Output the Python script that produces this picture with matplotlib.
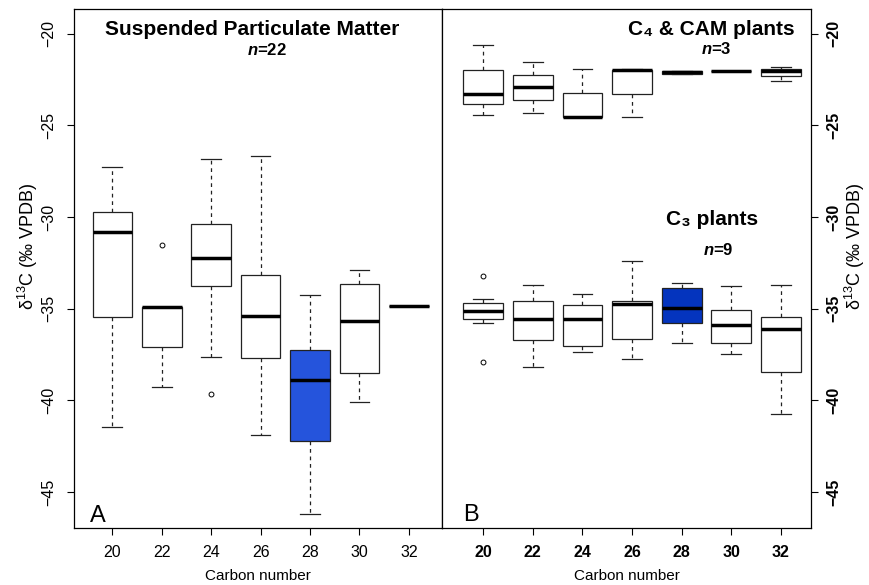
import matplotlib
matplotlib.use('Agg')
import matplotlib.pyplot as plt

plt.rcParams['font.family'] = ['Liberation Sans', 'DejaVu Sans']
plt.rcParams['mathtext.fontset'] = 'custom'
plt.rcParams['mathtext.rm'] = 'Liberation Sans'
plt.rcParams['mathtext.bf'] = 'Liberation Sans:bold'
plt.rcParams['mathtext.it'] = 'Liberation Sans:italic'
plt.rcParams['mathtext.bfit'] = 'Liberation Sans:italic:bold'

carbon = ['20', '22', '24', '26', '28', '30', '32']

# panel A: suspended particulate matter
spm_med = [-30.83, -34.90, -32.23, -35.38, -38.90, -35.68, -34.87]
spm_q1 = [-35.47, -37.10, -33.74, -37.68, -42.19, -38.50, -34.87]
spm_q3 = [-29.74, -34.89, -30.40, -33.18, -37.25, -33.65, -34.87]
spm_lo = [-41.44, -39.25, -37.63, -41.90, -46.20, -40.08, -34.87]
spm_hi = [-27.26, -34.89, -26.82, -26.66, -34.27, -32.87, -34.87]
spm_out = [[], [-31.5], [-39.63], [], [], [], []]

# panel B: C4 & CAM plants
c4_med = [-23.31, -22.92, -24.53, -22.00, -22.12, -22.03, -22.04]
c4_q1 = [-23.86, -23.61, -24.57, -23.28, -22.20, -22.03, -22.30]
c4_q3 = [-21.97, -22.25, -23.23, -21.99, -22.05, -22.03, -21.93]
c4_lo = [-24.42, -24.32, -24.57, -24.53, -22.20, -22.03, -22.59]
c4_hi = [-20.61, -21.54, -21.93, -21.95, -22.05, -22.03, -21.84]
c4_out = [[], [], [], [], [], [], []]

# panel B: C3 plants
c3_med = [-35.12, -35.58, -35.58, -34.76, -34.98, -35.87, -36.09]
c3_q1 = [-35.57, -36.72, -37.03, -36.67, -35.78, -36.85, -38.45]
c3_q3 = [-34.67, -34.60, -34.78, -34.58, -33.89, -35.09, -35.45]
c3_lo = [-35.78, -38.17, -37.36, -37.76, -36.87, -37.47, -40.75]
c3_hi = [-34.49, -33.71, -34.18, -32.38, -33.60, -33.78, -33.71]
c3_out = [[-33.2, -37.9], [], [], [], [], [], []]

yticks = [-45, -40, -35, -30, -25, -20]


def stats(med, q1, q3, lo, hi, out):
  return [dict(med=med[i], q1=q1[i], q3=q3[i], whislo=lo[i], whishi=hi[i],
               fliers=out[i]) for i in range(len(med))]


def draw(ax, st, hl_color):
  pos = list(range(1, len(st) + 1))
  res = ax.bxp(st, positions=pos, widths=0.8, capwidths=0.4, patch_artist=True,
               boxprops=dict(facecolor='white', edgecolor='#222222', linewidth=0.9),
               medianprops=dict(color='black', linewidth=2.5, solid_capstyle='butt'),
               whiskerprops=dict(color='#222222', linewidth=0.9, linestyle=(0, (3, 3))),
               capprops=dict(color='#222222', linewidth=0.9),
               flierprops=dict(marker='o', markersize=3.5, markerfacecolor='none',
                               markeredgecolor='black', markeredgewidth=0.7),
               manage_ticks=False)
  res['boxes'][4].set_facecolor(hl_color)
  return res


W, H = 869, 585
fig = plt.figure(figsize=(W / 100, H / 100), dpi=100)
top, bot = 9.3, 528
axA = fig.add_axes([74 / W, (H - bot) / H, 368 / W, (bot - top) / H])
axB = fig.add_axes([442 / W, (H - bot) / H, 369 / W, (bot - top) / H])

draw(axA, stats(spm_med, spm_q1, spm_q3, spm_lo, spm_hi, spm_out), '#2554DC')
draw(axB, stats(c4_med, c4_q1, c4_q3, c4_lo, c4_hi, c4_out), '#0434BE')
draw(axB, stats(c3_med, c3_q1, c3_q3, c3_lo, c3_hi, c3_out), '#0434BE')

for ax in (axA, axB):
  ax.set_ylim(-46.95, -18.68)
  ax.set_yticks(yticks)
  ax.set_xticks(range(1, 8))
  ax.set_xticklabels(carbon)
  for s in ax.spines.values():
    s.set_linewidth(0.9)
  ax.tick_params(axis='x', length=5, width=0.8, pad=7, labelsize=11.5)
  ax.set_xlabel('Carbon number', fontsize=11, labelpad=7)

axA.set_xlim(0.225, 7.67)
axB.set_xlim(0.17, 7.605)
axA.tick_params(axis='y', length=5, width=0.8, pad=8, labelsize=11.5, labelrotation=90)
for t in axA.get_yticklabels():
  t.set_va('center')
axB.yaxis.tick_right()
axB.tick_params(axis='y', length=5, width=0.8, pad=6, labelsize=11.5, labelrotation=90)
for t in axB.get_yticklabels():
  t.set_va('center')
  t.set_fontweight('bold')
for t in axB.get_xticklabels():
  t.set_fontweight('bold')

fig.text(28 / W, 1 - 246 / H, 'δ$^{13}$C (‰ VPDB)', rotation=90, ha='center', va='center', fontsize=13)
fig.text(855 / W, 1 - 246 / H, 'δ$^{13}$C (‰ VPDB)', rotation=90, ha='center', va='center', fontsize=13)

axA.text(0.484, 0.950, 'Suspended Particulate Matter', transform=axA.transAxes,
         ha='center', va='baseline', fontsize=15, fontweight='bold')
axA.text(0.524, 0.912, r'$\mathbfit{n}$=22', transform=axA.transAxes,
         ha='center', va='baseline', fontsize=12, fontweight='bold')
axB.text(0.729, 0.950, 'C₄ & CAM plants', transform=axB.transAxes,
         ha='center', va='baseline', fontsize=15, fontweight='bold')
axB.text(0.742, 0.914, r'$\mathbfit{n}$=3', transform=axB.transAxes,
         ha='center', va='baseline', fontsize=12, fontweight='bold')
axB.text(0.731, 0.584, 'C₃ plants', transform=axB.transAxes,
         ha='center', va='baseline', fontsize=15, fontweight='bold')
axB.text(0.749, 0.526, r'$\mathbfit{n}$=9', transform=axB.transAxes,
         ha='center', va='baseline', fontsize=12, fontweight='bold')
axA.text(0.043, 0.012, 'A', transform=axA.transAxes, ha='left', va='baseline', fontsize=17)
axB.text(0.056, 0.014, 'B', transform=axB.transAxes, ha='left', va='baseline', fontsize=17)

fig.savefig('out.png', dpi=100)
